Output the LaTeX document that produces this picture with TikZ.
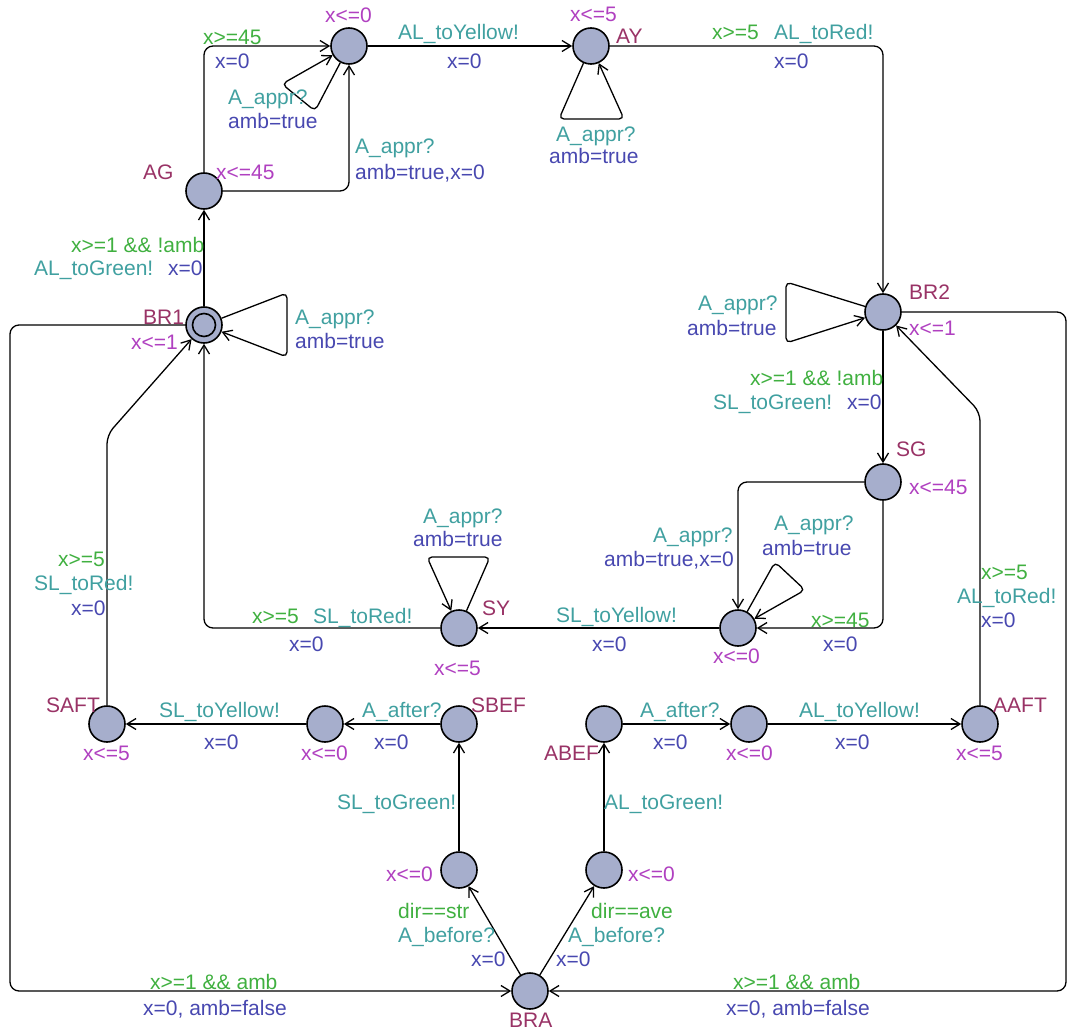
\documentclass[tikz,border=0pt]{standalone}
\usepackage{fontspec}
\setmainfont{Liberation Sans}
\usetikzlibrary{arrows.meta}
\definecolor{locfill}{HTML}{A6AECC}
\definecolor{namecol}{HTML}{993366}
\definecolor{invcol}{HTML}{B040C0}
\definecolor{guardcol}{HTML}{40B040}
\definecolor{synccol}{HTML}{40A0A0}
\definecolor{updcol}{HTML}{4848B0}
\tikzset{
  location/.style={draw,circle,minimum size=36pt,inner sep=0pt,line width=1.6pt,fill=locfill},
  initloc/.style={location,path picture={\draw[line width=1.6pt] (path picture bounding box.center) circle (11.5pt);}},
  transition/.style={draw,line width=1.3pt,rounded corners=9pt,-{Straight Barb[length=9pt,width=11pt]}},
  lbl/.style={anchor=base west,inner sep=0pt,font=\fontsize{21}{24}\selectfont},
  locname/.style={lbl,text=namecol},
  invar/.style={lbl,text=invcol},
  guard/.style={lbl,text=guardcol},
  sync/.style={lbl,text=synccol},
  update/.style={lbl,text=updcol}
}

\begin{document}
\begin{tikzpicture}[x=1pt,y=-1pt]
  \useasboundingbox (0,0) rectangle (1069,1030);
  \node[location] (agexit) at (349,46) {};
  \node[location] (ay) at (591,46) {};
  \node[location] (ag) at (204,191) {};
  \node[initloc] (brone) at (204,325) {};
  \node[location] (brtwo) at (883,312) {};
  \node[location] (sg) at (883,482) {};
  \node[location] (sgexit) at (738,628) {};
  \node[location] (sy) at (459,628) {};
  \node[location] (saft) at (107,724) {};
  \node[location] (safter) at (325,724) {};
  \node[location] (sbef) at (459,724) {};
  \node[location] (sbefore) at (459,870) {};
  \node[location] (abef) at (604,724) {};
  \node[location] (aafter) at (749,724) {};
  \node[location] (aaft) at (980,724) {};
  \node[location] (abefore) at (604,870) {};
  \node[location] (bra) at (530,991) {};

  \draw[transition] (ag) |- (agexit);
  \draw[transition] (ag) -| (agexit);
  \draw[transition,rounded corners=5pt] (agexit) -- (315,111) -- (282,84) -- (agexit);
  \draw[transition] (agexit) -- (ay);
  \draw[transition,rounded corners=5pt] (ay) -- (559,119) -- (624,119) -- (ay);
  \draw[transition] (ay) -| (brtwo);
  \draw[transition,rounded corners=5pt] (brtwo) -- (786,282) -- (786,343) -- (brtwo);
  \draw[transition] (brtwo) -- (sg);
  \draw[transition] (sg) -| (sgexit);
  \draw[transition] (sg) |- (sgexit);
  \draw[transition,rounded corners=5pt] (sgexit) -- (775,562) -- (805,590) -- (sgexit);
  \draw[transition] (sgexit) -- (sy);
  \draw[transition,rounded corners=5pt] (sy) -- (490,557) -- (427,557) -- (sy);
  \draw[transition] (sy) -| (brone);
  \draw[transition,rounded corners=5pt] (brone) -- (287,293) -- (287,357) -- (brone);
  \draw[transition] (brone) -- (ag);
  \draw[transition] (saft) -- (107,435) -- (brone);
  \draw[transition] (safter) -- (saft);
  \draw[transition] (sbef) -- (safter);
  \draw[transition] (sbefore) -- (sbef);
  \draw[transition] (bra) -- (sbefore);
  \draw[transition] (bra) -- (abefore);
  \draw[transition] (abefore) -- (abef);
  \draw[transition] (abef) -- (aafter);
  \draw[transition] (aafter) -- (aaft);
  \draw[transition] (aaft) -- (980,412) -- (brtwo);
  \draw[transition] (brone) -| (10,991) -- (bra);
  \draw[transition] (brtwo) -| (1066,991) -- (bra);

  \node[invar] (agexit-i) at (325,23) {x<=0};
  \node[invar] (ay-i) at (570,22) {x<=5};
  \node[locname] (ay-n) at (616,44) {AY};
  \node[locname] (ag-n) at (143,179) {AG};
  \node[invar] (ag-i) at (216,179) {x<=45};
  \node[locname] (brone-n) at (143,324) {BR1};
  \node[invar] (brone-i) at (131,349) {x<=1};
  \node[locname] (brtwo-n) at (909,299) {BR2};
  \node[invar] (brtwo-i) at (909,335) {x<=1};
  \node[locname] (sg-n) at (896,456) {SG};
  \node[invar] (sg-i) at (909,494) {x<=45};
  \node[invar] (sgexit-i) at (713,663) {x<=0};
  \node[locname] (sy-n) at (482,615) {SY};
  \node[invar] (sy-i) at (434,675) {x<=5};
  \node[locname] (saft-n) at (46,712) {SAFT};
  \node[invar] (saft-i) at (83,760) {x<=5};
  \node[invar] (safter-i) at (301,760) {x<=0};
  \node[locname] (sbef-n) at (471,712) {SBEF};
  \node[invar] (sbefore-i) at (386,881) {x<=0};
  \node[locname] (abef-n) at (544,760) {ABEF};
  \node[invar] (aafter-i) at (726,760) {x<=0};
  \node[locname] (aaft-n) at (993,712) {AAFT};
  \node[invar] (aaft-i) at (956,760) {x<=5};
  \node[invar] (abefore-i) at (628,881) {x<=0};
  \node[locname] (bra-n) at (509,1027) {BRA};

  \node[guard] (e1-g) at (203,45) {x>=45};
  \node[update] (e1-u) at (215,69) {x=0};
  \node[sync] (e2-s) at (355,154) {A\_appr?};
  \node[update] (e2-u) at (355,179) {amb=true,x=0};
  \node[sync] (e3-s) at (228,105) {A\_appr?};
  \node[update] (e3-u) at (228,129) {amb=true};
  \node[sync] (e4-s) at (398,40) {AL\_toYellow!};
  \node[update] (e4-u) at (447,69) {x=0};
  \node[sync] (e5-s) at (556,142) {A\_appr?};
  \node[update] (e5-u) at (549,164) {amb=true};
  \node[guard] (e6-g) at (712,40) {x>=5};
  \node[sync] (e6-s) at (774,40) {AL\_toRed!};
  \node[update] (e6-u) at (774,69) {x=0};
  \node[sync] (e7-s) at (698,310) {A\_appr?};
  \node[update] (e7-u) at (687,335) {amb=true};
  \node[guard] (e8-g) at (750,385) {x>=1 \&\& !amb};
  \node[sync] (e8-s) at (713,409) {SL\_toGreen!};
  \node[update] (e8-u) at (847,409) {x=0};
  \node[sync] (e9-s) at (653,542) {A\_appr?};
  \node[update] (e9-u) at (604,566) {amb=true,x=0};
  \node[guard] (e10-g) at (811,627) {x>=45};
  \node[update] (e10-u) at (823,651) {x=0};
  \node[sync] (e11-s) at (774,530) {A\_appr?};
  \node[update] (e11-u) at (762,555) {amb=true};
  \node[sync] (e12-s) at (556,622) {SL\_toYellow!};
  \node[update] (e12-u) at (592,651) {x=0};
  \node[sync] (e13-s) at (423,523) {A\_appr?};
  \node[update] (e13-u) at (413,546) {amb=true};
  \node[guard] (e14-g) at (252,623) {x>=5};
  \node[sync] (e14-s) at (313,623) {SL\_toRed!};
  \node[update] (e14-u) at (289,651) {x=0};
  \node[sync] (e15-s) at (295,324) {A\_appr?};
  \node[update] (e15-u) at (295,348) {amb=true};
  \node[guard] (e16-g) at (71,252) {x>=1 \&\& !amb};
  \node[sync] (e16-s) at (34,275) {AL\_toGreen!};
  \node[update] (e16-u) at (168,275) {x=0};
  \node[guard] (e17-g) at (58,566) {x>=5};
  \node[sync] (e17-s) at (34,590) {SL\_toRed!};
  \node[update] (e17-u) at (71,615) {x=0};
  \node[sync] (e18-s) at (159,717) {SL\_toYellow!};
  \node[update] (e18-u) at (204,749) {x=0};
  \node[sync] (e19-s) at (362,717) {A\_after?};
  \node[update] (e19-u) at (374,749) {x=0};
  \node[sync] (e20-s) at (337,809) {SL\_toGreen!};
  \node[guard] (e21-g) at (398,918) {dir==str};
  \node[sync] (e21-s) at (398,942) {A\_before?};
  \node[update] (e21-u) at (471,966) {x=0};
  \node[guard] (e22-g) at (591,918) {dir==ave};
  \node[sync] (e22-s) at (568,942) {A\_before?};
  \node[update] (e22-u) at (556,966) {x=0};
  \node[sync] (e23-s) at (604,809) {AL\_toGreen!};
  \node[sync] (e24-s) at (640,717) {A\_after?};
  \node[update] (e24-u) at (653,749) {x=0};
  \node[sync] (e25-s) at (799,717) {AL\_toYellow!};
  \node[update] (e25-u) at (835,749) {x=0};
  \node[guard] (e26-g) at (981,579) {x>=5};
  \node[sync] (e26-s) at (957,603) {AL\_toRed!};
  \node[update] (e26-u) at (981,627) {x=0};
  \node[guard] (e27-g) at (150,989) {x>=1 \&\& amb};
  \node[update] (e27-u) at (143,1015) {x=0, amb=false};
  \node[guard] (e28-g) at (733,989) {x>=1 \&\& amb};
  \node[update] (e28-u) at (726,1015) {x=0, amb=false};
\end{tikzpicture}
\end{document}
